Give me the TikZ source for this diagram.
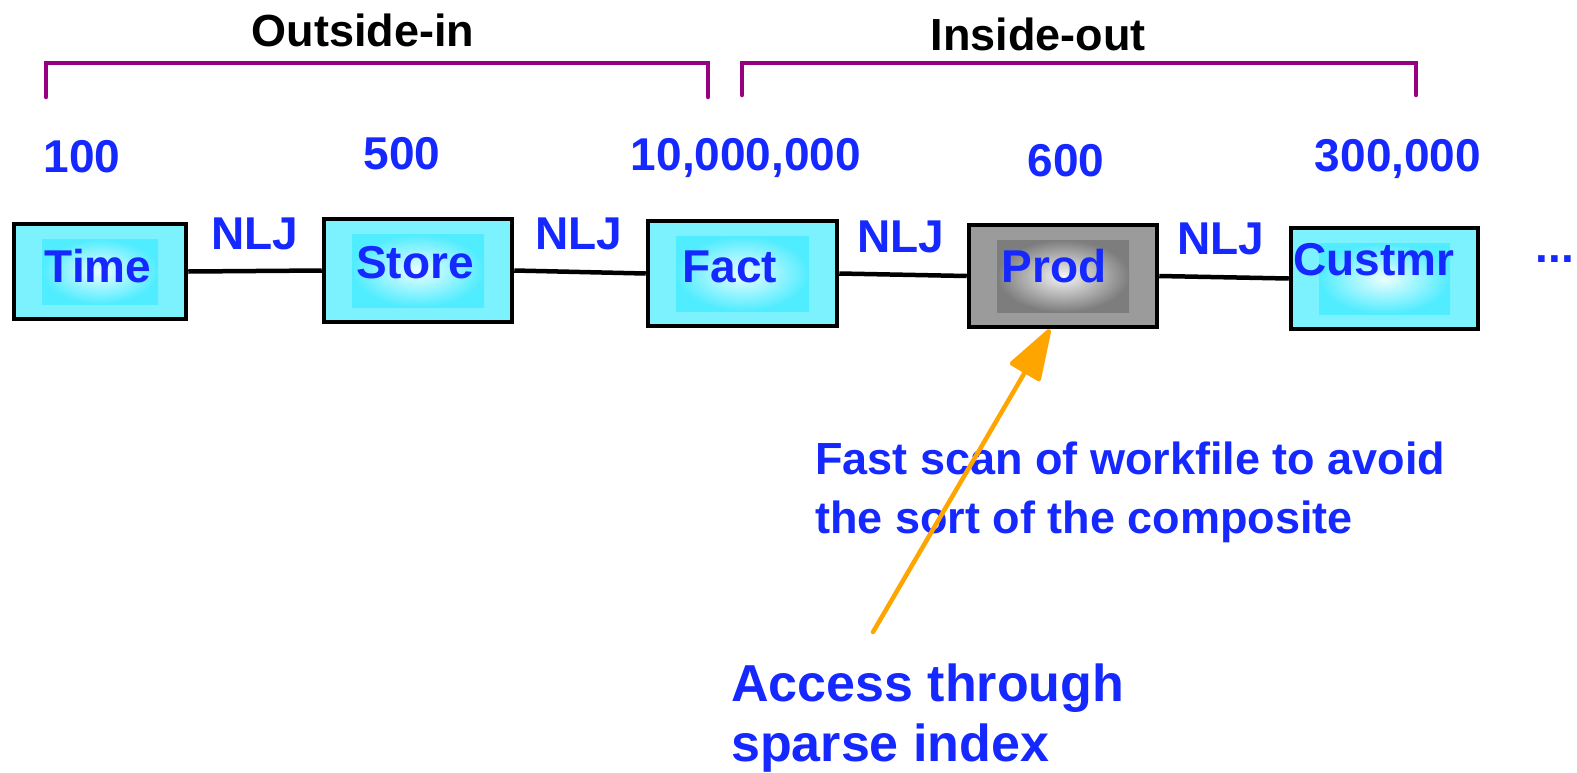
\documentclass[tikz,border=0pt]{standalone}
\usepackage{fontspec}
\setmainfont{Liberation Sans}
\usetikzlibrary{arrows.meta}

\definecolor{txtblue}{RGB}{20,40,255}
\definecolor{brk}{RGB}{150,0,128}
\definecolor{arr}{RGB}{255,165,0}
\definecolor{cyframe}{RGB}{125,242,255}
\definecolor{cyedge}{RGB}{80,236,255}
\definecolor{cycore}{RGB}{235,254,255}
\definecolor{gyframe}{RGB}{155,155,155}
\definecolor{gyedge}{RGB}{125,125,125}
\definecolor{gycore}{RGB}{245,245,245}

\tikzset{
  bevelbox/.style n args={3}{draw=black, line width=4.5pt, inner sep=0pt,
    path picture={
      \fill[#1] (path picture bounding box.south west) rectangle (path picture bounding box.north east);
      \shade[inner color=#3, outer color=#2]
        ([shift={(28,15)}]path picture bounding box.north west) rectangle
        ([shift={(-28,-15)}]path picture bounding box.south east);
    }},
  cyanbox/.style={bevelbox={cyframe}{cyedge}{cycore}},
  graybox/.style={bevelbox={gyframe}{gyedge}{gycore}},
  boxtext/.style={text=txtblue, font=\bfseries\fontsize{46}{55}\selectfont, inner sep=0pt},
  bluelbl/.style={text=txtblue, font=\bfseries\fontsize{46}{55}\selectfont, inner sep=0pt},
  header/.style={text=black, font=\bfseries\fontsize{45}{54}\selectfont, inner sep=0pt},
  link/.style={draw=black, line width=4.5pt},
  bracket/.style={draw=brk, line width=4.5pt, line cap=round, line join=miter},
  pointer/.style={draw=arr, line width=4.5pt, line cap=round,
    -{Triangle[length=56pt, width=36pt, round]}},
}

\begin{document}
\begin{tikzpicture}[x=1pt, y=-1pt]
\useasboundingbox (0,0) rectangle (1577,772);

% group headings and brackets
\node[header] (outin) at (363,30) {Outside-in};
\node[header] (inout) at (1038,34) {Inside-out};
\draw[bracket] (46,97) -- (46,63) -- (708,63) -- (708,97);
\draw[bracket] (742,95) -- (742,63) -- (1416,63) -- (1416,95);

% row cardinalities
\node[bluelbl] (n100) at (82,157) {100};
\node[bluelbl] (n500) at (402,154) {500};
\node[bluelbl] (n10m) at (746,158) {10,000,000};
\node[bluelbl] (n600) at (1066,161) {600};
\node[bluelbl] (n300k) at (1398,159) {300,000};

% tables in the join sequence
\node[cyanbox, minimum width=172, minimum height=95,
      label={[boxtext, xshift=-2pt, yshift=5.5pt]center:Time}] (time) at (100,271.5) {};
\node[cyanbox, minimum width=188, minimum height=103,
      label={[boxtext, xshift=-3pt, yshift=7.5pt]center:Store}] (store) at (418,270.5) {};
\node[cyanbox, minimum width=189, minimum height=105,
      label={[boxtext, xshift=-12.5pt, yshift=6.5pt]center:Fact}] (fact) at (742.5,273.5) {};
\node[graybox, minimum width=188, minimum height=102,
      label={[boxtext, xshift=-9pt, yshift=10pt]center:Prod}] (prod) at (1063,276) {};
\node[cyanbox, minimum width=187, minimum height=101,
      label={[boxtext, xshift=-10.5pt, yshift=18.5pt]center:Custmr}] (cust) at (1384.5,278.5) {};
\node[bluelbl, anchor=base] (more) at (1555,262) {...};

% join links
\draw[link] (time.east) -- (store.west);
\draw[link] (store.east) -- (fact.west);
\draw[link] (fact.east) -- (prod.west);
\draw[link] (prod.east) -- (cust.west);

% join method labels
\node[bluelbl] (j1) at (255,234) {NLJ};
\node[bluelbl] (j2) at (579,234) {NLJ};
\node[bluelbl] (j3) at (901,237) {NLJ};
\node[bluelbl] (j4) at (1221,239) {NLJ};

% notes
\node[anchor=north west, align=left, inner sep=0pt, text=txtblue,
      font=\bfseries\fontsize{45}{59}\selectfont] (scan) at (815,442)
  {Fast scan of workfile to avoid\\the sort of the composite};
\node[anchor=north west, align=left, inner sep=0pt, text=txtblue,
      font=\bfseries\fontsize{52}{60}\selectfont] (access) at (731,664)
  {Access through\\sparse index};

% pointer from the access note up to the Prod table
\coordinate (src) at (873,632);
\draw[pointer] (src) -- ([xshift=-13pt]prod.south);
\end{tikzpicture}
\end{document}
